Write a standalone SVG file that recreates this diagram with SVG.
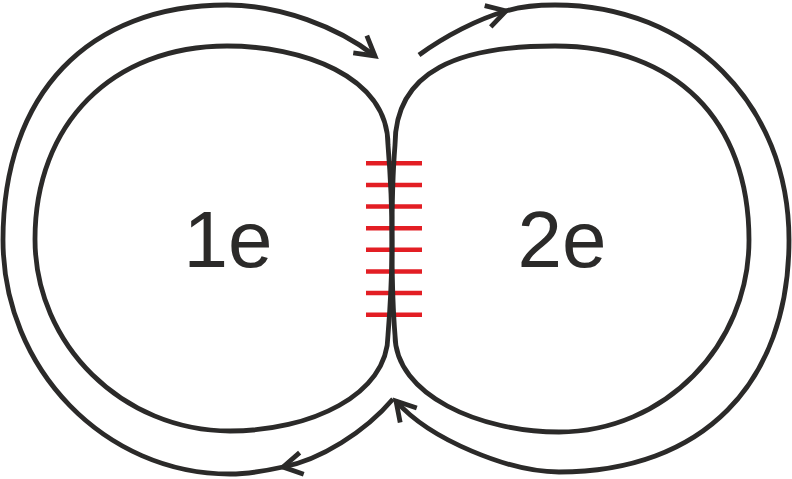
<svg xmlns="http://www.w3.org/2000/svg" width="792" height="479" viewBox="0 0 792 479">
  <style>
    .line { fill: none; stroke: #2b2a29; stroke-width: 4.8; stroke-linejoin: miter; }
    .hatch { stroke: #e31e24; stroke-width: 4.5; }
    .label { font-family: "Liberation Sans", Arial, sans-serif; font-size: 80px; fill: #2b2a29; text-anchor: middle; }
  </style>
  <defs>
    <marker id="arrow" markerUnits="userSpaceOnUse" markerWidth="40" markerHeight="40" viewBox="-30 -20 40 40" refX="0" refY="0" orient="auto" overflow="visible">
      <path d="M-19,-11 L0,0 L-19,11" fill="none" stroke="#2b2a29" stroke-width="4.8" stroke-linejoin="miter"/>
    </marker>
  </defs>
  <rect width="792" height="479" fill="#ffffff"/>

  <g id="hatching">
    <line class="hatch" x1="366" y1="163.3" x2="422" y2="163.3"/>
    <line class="hatch" x1="366" y1="184.9" x2="422" y2="184.9"/>
    <line class="hatch" x1="366" y1="206.6" x2="422" y2="206.6"/>
    <line class="hatch" x1="366" y1="228.2" x2="422" y2="228.2"/>
    <line class="hatch" x1="366" y1="249.8" x2="422" y2="249.8"/>
    <line class="hatch" x1="366" y1="271.5" x2="422" y2="271.5"/>
    <line class="hatch" x1="366" y1="293.1" x2="422" y2="293.1"/>
    <line class="hatch" x1="366" y1="314.7" x2="422" y2="314.7"/>
  </g>

  <g id="node-1e">
    <path class="line" d="M227,46 C300,46 388,75 388,145 C390,170 392,200 392,240 C392,280 390,310 388,335 C388,395 310,431 230,431 C123,431 35,345 35,239 C35,124 112,46 227,46 Z"/>
    <text class="label" x="228" y="267">1e</text>
  </g>

  <g id="node-2e">
    <path class="line" d="M555,46 C675,46 749,120 749,240 C749,346 664,432 559,432 C480,432 395,395 395,335 C393,310 392,280 392,240 C392,200 393,170 395,145 C395,70 460,46 555,46 Z"/>
    <text class="label" x="562" y="267">2e</text>
  </g>

  <g id="connectors">
    <path class="line" marker-end="url(#arrow)" d="M393,399 C365,432 320,460 283,467"/>
    <path class="line" marker-end="url(#arrow)" d="M283,467 C265,471 248,474 230,474 C105,474 3,369 3,240 C3,94 88,5 227,5 C280,5 338,27 375,56"/>
    <path class="line" marker-end="url(#arrow)" d="M419,55 C445,36 478,19 506,11"/>
    <path class="line" marker-end="url(#arrow)" d="M506,11 C522,6 540,5 555,5 C690,5 789,104 789,240 C789,384 702,472 559,472 C510,472 430,440 396,401"/>
  </g>
</svg>
